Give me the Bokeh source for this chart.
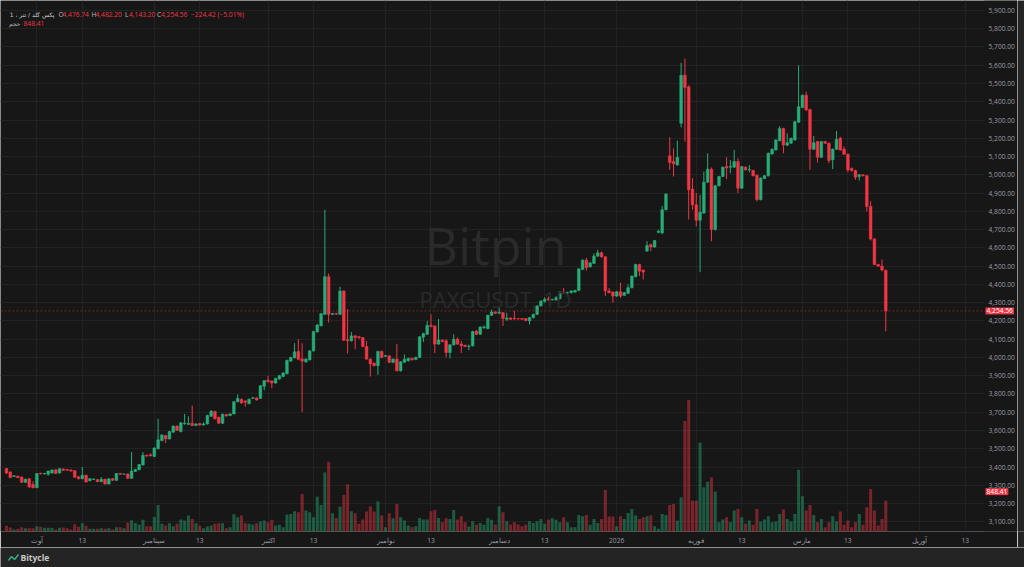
from bokeh.plotting import figure
from bokeh.models import (Range1d, FixedTicker, NumeralTickFormatter, ColumnDataSource, Label, Span,
                          BoxAnnotation)
from bokeh.layouts import column, row
from bokeh.embed import file_html
from bokeh.resources import INLINE
from bokeh.core.properties import value

# ---------------- data (daily bars, PAXG/USDT) ----------------
opens = [3391,3373,3348,3350,3345,3316,3336,3304,3287,3366,3362,3360,3367,3385,3367,3389,3386,3384,3380,3347,
 3336,3355,3325,3332,3331,3320,3333,3307,3336,3327,3365,3361,3362,3338,3376,3385,3411,3465,3467,3458,
 3500,3545,3572,3554,3591,3624,3594,3636,3634,3640,3628,3638,3630,3636,3678,3704,3672,3640,3687,3682,
 3691,3758,3771,3762,3747,3776,3778,3776,3842,3876,3871,3860,3882,3896,3911,3980,3998,4033,3992,3976,
 3987,4036,4140,4173,4236,4442,4236,4240,4236,4364,4098,4091,4118,4114,4109,4060,3991,3969,3955,4033,
 4006,4009,3973,3991,3927,3974,3982,3995,3989,4000,4111,4127,4176,4172,4073,4095,4091,4027,4069,4100,
 4073,4067,4060,4064,4145,4127,4162,4158,4231,4249,4242,4245,4209,4216,4215,4213,4213,4213,4200,4218,
 4236,4282,4307,4322,4316,4315,4322,4358,4353,4355,4358,4367,4482,4533,4496,4515,4555,4573,4551,4364,
 4358,4336,4360,4340,4351,4382,4442,4509,4478,4583,4618,4605,4685,4682,4809,5104,5073,5054,5282,5545,
 5482,4922,4836,4751,4791,4960,5031,4700,4940,4991,5045,5042,5042,5073,4927,5042,5027,5024,4998,4864,
 4980,4995,5114,5136,5187,5254,5162,5173,5191,5288,5369,5436,5358,5140,5182,5096,5182,5173,5082,5140,
 5200,5140,5113,5035,5024,4991,5000,4995,4827,4649,4509,4500,4476.74]
highs = [3395,3376,3356,3353,3348,3336,3340,3322,3366,3369,3368,3381,3387,3388,3394,3392,3389,3387,3383,3350,
 3400,3358,3340,3338,3334,3345,3336,3339,3340,3367,3368,3365,3365,3482,3390,3417,3482,3468,3475,3508,
 3664,3580,3576,3598,3628,3628,3646,3691,3678,3736,3640,3642,3645,3686,3712,3708,3676,3693,3691,3695,
 3762,3798,3775,3766,3775,3784,3782,3849,3877,3900,3874,3889,3904,3920,3988,4004,4078,4100,4078,3995,
 4040,4146,4182,4244,4809,4460,4244,4245,4387,4368,4264,4140,4122,4118,4112,4090,3995,3972,4037,4037,
 4014,4013,3995,4073,3980,4016,3999,3999,4004,4117,4135,4200,4236,4176,4210,4100,4100,4073,4127,4110,
 4090,4070,4070,4146,4149,4171,4175,4235,4262,4253,4275,4249,4245,4220,4255,4216,4216,4216,4222,4240,
 4286,4313,4330,4333,4322,4336,4362,4380,4360,4368,4371,4489,4537,4545,4522,4570,4590,4580,4555,4380,
 4362,4364,4409,4359,4400,4449,4513,4513,4482,4637,4622,4644,4700,4830,4899,5206,5145,5187,5613,5636,
 5490,4982,4900,4891,5018,5118,5040,4945,4995,5046,5096,5082,5136,5091,5049,5046,5054,5028,5002,4986,
 4999,5122,5144,5195,5267,5258,5227,5204,5295,5600,5440,5455,5362,5213,5186,5186,5186,5177,5144,5240,
 5209,5155,5117,5040,5028,5004,5004,4999,4855,4653,4513,4536,4482.20]
lows = [3362,3340,3345,3339,3312,3313,3286,3283,3284,3360,3359,3352,3364,3362,3364,3379,3380,3375,3341,3332,
 3333,3314,3322,3330,3317,3317,3304,3304,3324,3324,3357,3358,3335,3335,3373,3382,3408,3456,3458,3455,
 3497,3540,3531,3550,3588,3597,3590,3632,3630,3624,3624,3626,3627,3632,3674,3660,3636,3636,3676,3678,
 3688,3754,3747,3731,3744,3773,3764,3773,3820,3863,3831,3856,3878,3892,3908,3976,3994,3985,3700,3970,
 3983,4032,4136,4170,4232,4191,4232,4232,4232,4090,4022,4087,4045,4100,4056,3987,3896,3951,3905,3996,
 4002,3969,3969,3924,3922,3970,3978,3983,3985,3996,4085,4123,4165,4024,4069,4083,4000,3995,4065,4069,
 4025,4056,4040,4060,4123,4123,4158,4154,4227,4238,4238,4172,4200,4205,4204,4207,4205,4198,4180,4213,
 4232,4278,4300,4311,4312,4311,4318,4347,4335,4350,4354,4363,4478,4475,4492,4511,4550,4546,4336,4350,
 4300,4332,4327,4336,4347,4378,4438,4445,4427,4578,4582,4600,4680,4675,4805,5027,4991,5050,5260,5182,
 4755,4809,4718,4467,4785,4955,4636,4695,4936,4987,4976,5009,5038,4900,4923,5023,5013,4991,4855,4860,
 4976,4991,5110,5132,5183,5118,5158,5169,5187,5284,5365,5350,5027,5136,5067,5092,5169,5064,5031,5136,
 5132,5109,5014,5018,4973,4969,4991,4800,4640,4505,4496,4472,4143.20]
closes = [3367,3342,3352,3342,3316,3333,3291,3287,3364,3362,3365,3378,3384,3365,3391,3382,3382,3378,3344,3336,
 3355,3318,3336,3334,3320,3333,3307,3336,3327,3364,3360,3362,3338,3378,3387,3414,3464,3460,3462,3504,
 3549,3576,3554,3594,3624,3600,3642,3640,3638,3627,3636,3630,3636,3682,3705,3664,3640,3689,3680,3691,
 3758,3776,3751,3755,3771,3780,3767,3845,3873,3867,3860,3885,3900,3915,3984,4000,4031,3990,3980,3991,
 4036,4142,4178,4240,4442,4236,4240,4237,4364,4094,4091,4118,4109,4109,4060,3991,3964,3955,4033,4000,
 4010,3973,3991,3927,3976,3990,3995,3987,4000,4113,4131,4176,4169,4073,4096,4087,4027,4069,4100,4073,
 4064,4060,4063,4142,4127,4167,4167,4231,4249,4242,4247,4213,4216,4209,4212,4211,4209,4202,4218,4236,
 4282,4309,4318,4315,4318,4327,4358,4351,4355,4364,4367,4485,4533,4491,4518,4555,4573,4551,4364,4355,
 4336,4360,4336,4355,4382,4445,4509,4473,4467,4613,4605,4640,4691,4809,4895,5067,5060,5096,5545,5478,
 4918,4836,4751,4795,4960,5031,4700,4940,4991,5042,5038,5046,5073,4927,5045,5027,5029,4995,4864,4982,
 4995,5118,5140,5191,5254,5163,5176,5200,5291,5373,5436,5355,5140,5176,5096,5182,5173,5078,5140,5194,
 5136,5113,5027,5024,4987,5000,4995,4827,4649,4509,4500,4478.98,4254.56]
volumes = [155,110,55,73,119,91,91,91,146,128,100,100,100,55,100,110,91,55,201,128,
 228,155,73,73,73,91,73,91,55,119,119,91,247,310,237,183,320,146,146,398,
 730,210,164,228,146,210,329,301,438,347,228,155,91,137,164,210,228,228,91,119,
 475,393,438,228,210,192,228,274,301,256,320,164,183,119,466,484,557,530,1032,575,
 530,393,959,730,1625,1917,502,374,685,1004,1296,557,502,210,329,548,694,548,831,438,
 119,502,365,758,393,301,164,119,146,374,329,329,557,593,374,256,365,347,593,329,
 420,256,137,283,183,237,183,374,320,192,694,530,283,192,256,192,146,192,283,237,
 283,347,210,329,365,320,256,393,256,119,119,457,420,457,183,347,237,347,1141,411,
 411,146,420,347,511,621,438,347,393,420,438,146,73,484,457,730,758,301,940,3040,
 3615,849,849,2447,1214,1370,1488,1096,256,329,393,256,575,621,393,210,301,183,621,274,
 329,420,256,274,484,603,347,274,484,1698,968,575,730,457,256,347,119,256,420,274,
 548,183,301,119,256,484,183,666,1169,575,164,347,848.41]

tick_bars = [8, 20, 39, 51, 69, 81, 100, 112, 130, 142, 161, 182, 194, 210, 222, 241, 253]
tick_labels = ["آوت", "13", "سپتامبر", "13", "اکتبر", "13", "نوامبر", "13", "دسامبر", "13",
               "2026", "فوریه", "13", "مارس", "13", "آوریل", "13"]
price_ticks = [3100, 3200, 3300, 3400, 3500, 3600, 3700, 3800, 3900, 4000, 4100, 4200, 4300, 4400,
               4500, 4600, 4700, 4800, 4900, 5000, 5100, 5200, 5300, 5400, 5500, 5600, 5700, 5800, 5900]

symbol_text = "پکس گلد / تتر ، 1"
volume_word = "حجم"
last_open, last_high, last_low, last_close = 4476.74, 4482.20, 4143.20, 4254.56
last_change, last_change_pct = -224.42, -5.01

# ---------------- styling ----------------
BG = "#171717"
FRAME = "#242424"
GRID = "#222222"
UP = "#26ad78"
DOWN = "#f23645"
AXIS_TXT = "#9a9ca3"
NUM_FONT = "Open Sans"
W, H = 1017, 547
FOOT_H = 20
FS = "6.7px"


def bx(xref):
    # pixel column -> bar coordinate
    return (xref - 6) / 3.79


SCALE_X = bx(984)          # where the price scale starts

n = len(closes)
idx = list(range(n))
colors = [UP if c >= o else DOWN for o, c in zip(opens, closes)]
src = ColumnDataSource(dict(
    x=idx, o=opens, h=highs, l=lows, c=closes, v=volumes,
    top=[max(o, c) for o, c in zip(opens, closes)],
    bot=[min(o, c) for o, c in zip(opens, closes)],
    col=colors))

p = figure(width=W, height=H, x_range=Range1d(bx(0), bx(1017)),
           y_range=Range1d(3047, 5954.5),
           y_axis_location="right", toolbar_location=None, output_backend="svg",
           min_border_left=0, min_border_top=0, min_border_right=0, min_border_bottom=14,
           background_fill_color=BG, border_fill_color=BG, outline_line_color=None)
p.extra_y_ranges = {"vol": Range1d(0, 14600)}

p.xgrid.grid_line_color = GRID
p.ygrid.grid_line_color = GRID

p.xaxis.ticker = FixedTicker(ticks=tick_bars)
p.xaxis.major_label_overrides = {b: t for b, t in zip(tick_bars, tick_labels)}
p.yaxis.ticker = FixedTicker(ticks=price_ticks)
p.yaxis.formatter = NumeralTickFormatter(format="0,0.00")
p.yaxis.fixed_location = SCALE_X
for ax in (p.xaxis, p.yaxis):
    ax.axis_label = None
    ax.axis_label_standoff = 0
    ax.axis_line_color = None
    ax.major_tick_line_color = None
    ax.minor_tick_line_color = None
    ax.major_tick_out = 0
    ax.major_tick_in = 0
    ax.minor_tick_out = 0
    ax.minor_tick_in = 0
    ax.major_label_text_color = AXIS_TXT
    ax.major_label_text_font = NUM_FONT
    ax.major_label_text_font_size = FS
p.xaxis.major_label_standoff = 4
p.yaxis.major_label_standoff = 4

# price-scale area (hides the grid there)
p.add_layout(BoxAnnotation(left=SCALE_X, fill_color=BG, fill_alpha=1, line_color=None,
                           level="underlay"))

# volume
p.vbar(x="x", width=0.8, top="v", bottom=0, source=src, y_range_name="vol",
       fill_color="col", line_color=None, fill_alpha=0.45)

# last price line
p.add_layout(Span(location=last_close, dimension="width", line_color=DOWN, line_alpha=0.45,
                  line_dash="2 2", line_width=1))

# candles
p.segment(x0="x", y0="l", x1="x", y1="h", source=src, line_color="col", line_width=1)
p.vbar(x="x", width=0.72, top="top", bottom="bot", source=src, fill_color="col", line_color="col",
       line_width=0.5)

# watermark
p.text(x=[bx(495)], y=[4618], text=["Bitpin"], text_align="center", text_baseline="middle",
       text_font=value("Open Sans"), text_font_size="52px", text_color="#2a2a2a")
p.text(x=[bx(495)], y=[4322], text=["PAXGUSDT, 1D"], text_align="center", text_baseline="middle",
       text_font=value("Open Sans"), text_font_size="22px", text_color="#2a2a2a")


def lab(xref, y, text, color, font=NUM_FONT, align="left", size=FS):
    p.add_layout(Label(x=bx(xref), y=y, text=text, text_color=color, text_font=font,
                       text_font_size=size, text_baseline="middle", text_align=align))


Y1, Y2 = 5877, 5826
lab(54, Y1, symbol_text, "#c9cbd1", font="DejaVu Sans", align="right", size="6px")
lab(58, Y1, "O", "#b8bac0")
lab(62, Y1, f"{last_open:,.2f}", DOWN)
lab(91, Y1, "H", "#b8bac0")
lab(95, Y1, f"{last_high:,.2f}", DOWN)
lab(124.5, Y1, "L", "#b8bac0")
lab(128.5, Y1, f"{last_low:,.2f}", DOWN)
lab(156.5, Y1, "C", "#b8bac0")
lab(160.5, Y1, f"{last_close:,.2f}", DOWN)
lab(190.5, Y1, f"{last_change:.2f} ({last_change_pct:.2f}%)".replace("-", "−"), DOWN)
lab(20, Y2, volume_word, "#b8bac0", font="DejaVu Sans", align="right", size="6px")
lab(23, Y2, f"{volumes[-1]:,.2f}", DOWN)

# right-side value tags
p.add_layout(Label(x=SCALE_X, y=last_close, text=f"{last_close:,.2f}", text_color="white",
                   text_font=NUM_FONT, text_font_size=FS, text_baseline="middle",
                   text_align="left", background_fill_color=DOWN, padding=1, x_offset=1))
p.add_layout(Label(x=SCALE_X, y=volumes[-1], y_range_name="vol", text=f"{volumes[-1]:,.2f}",
                   text_color="white", text_font=NUM_FONT, text_font_size=FS,
                   text_baseline="middle", text_align="left", background_fill_color=DOWN,
                   padding=1, x_offset=1, y_offset=9))

strip = figure(width=7, height=H, toolbar_location=None, output_backend="svg",
               min_border=0, background_fill_color=FRAME, border_fill_color=FRAME,
               outline_line_color=None, x_range=Range1d(0, 1), y_range=Range1d(0, 1))
strip.axis.visible = False
strip.grid.visible = False

foot = figure(width=1024, height=FOOT_H, toolbar_location=None, output_backend="svg",
              min_border=0, background_fill_color=FRAME, border_fill_color=FRAME,
              outline_line_color=None, x_range=Range1d(0, 1024), y_range=Range1d(0, FOOT_H))
foot.axis.visible = False
foot.grid.visible = False
foot.line(x=[8, 11, 14, 18], y=[7, 11, 8, 13], line_color="#2fa88a", line_width=1.6)
foot.text(x=[20], y=[10], text=["Bitycle"], text_baseline="middle", text_align="left",
          text_font=value("Open Sans"), text_font_size="8.5px", text_font_style="bold",
          text_color="#c8c8c8")

layout = column(row(p, strip, spacing=0), foot, spacing=0)
open("out.html", "w").write(file_html(layout, INLINE))
